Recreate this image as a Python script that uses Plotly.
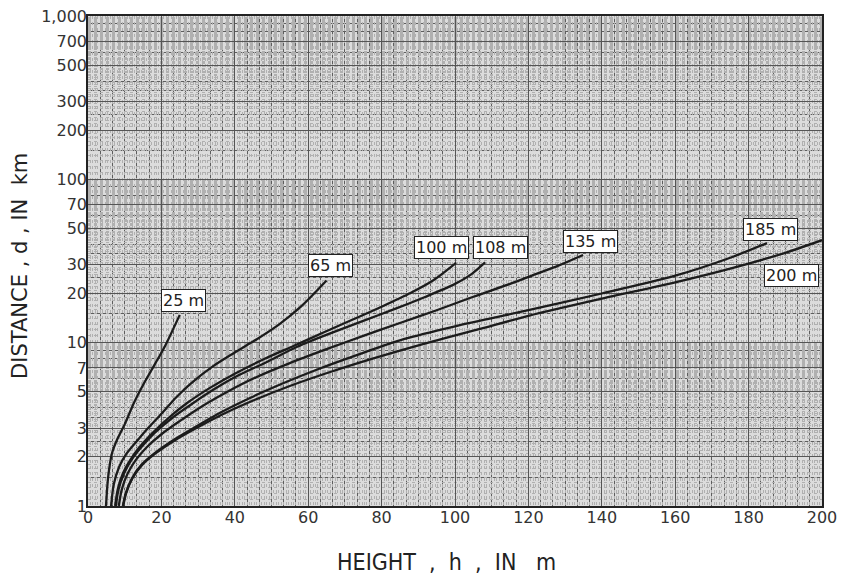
import numpy as np
import plotly.graph_objects as go

# height h (m) / distance d (km)
H_25 = [4.9, 5.5, 6.5, 8.0, 10.0, 12.5, 15.0, 18.0, 21.0, 25.0]
D_25 = [1.0, 1.51, 2.09, 2.57, 3.16, 4.27, 5.5, 7.24, 9.55, 14.8]

H_65 = [6.3, 7.0, 8.5, 10.5, 13.4, 16.5, 20.0, 24.0, 28.0, 34.0, 40.0, 46.0, 52.0, 58.0, 65.0]
D_65 = [1.0, 1.35, 1.74, 2.09, 2.51, 3.02, 3.67, 4.62, 5.62, 7.16, 8.71, 10.5, 12.9, 16.6, 24.0]

H_100 = [7.4, 8.1, 9.5, 11.5, 14.0, 17.7, 22.0, 27.0, 33.0, 40.0, 48.0, 56.0, 64.0, 72.0, 80.0, 88.0, 94.0, 100.3]
D_100 = [1.0, 1.26, 1.58, 1.91, 2.29, 2.82, 3.47, 4.27, 5.25, 6.46, 7.94, 9.55, 11.5, 13.8, 16.6, 20.2, 24.0, 30.8]

H_108 = [7.6, 8.3, 9.8, 11.8, 14.5, 18.3, 23.0, 28.0, 34.0, 41.0, 49.0, 57.0, 66.0, 75.0, 84.0, 92.0, 100.0, 104.5, 108.2]
D_108 = [1.0, 1.26, 1.58, 1.91, 2.29, 2.82, 3.47, 4.17, 5.13, 6.31, 7.67, 9.44, 11.4, 13.6, 16.2, 19.1, 22.9, 26.3, 31.0]

H_135 = [8.4, 9.2, 10.8, 13.0, 16.0, 20.0, 25.0, 31.0, 38.0, 46.0, 55.0, 65.0, 75.0, 85.0, 95.0, 105.0, 115.0, 122.0, 128.0, 134.9]
D_135 = [1.0, 1.26, 1.58, 1.91, 2.29, 2.75, 3.31, 4.07, 5.01, 6.17, 7.5, 9.12, 11.0, 13.2, 15.8, 19.1, 22.9, 26.3, 29.5, 34.4]

H_185 = [9.5, 10.3, 12.0, 14.5, 18.0, 23.0, 29.0, 36.0, 44.0, 53.0, 63.0, 74.0, 86.0, 100.0, 120.0, 140.0, 160.0, 175.0, 185.0]
D_185 = [1.0, 1.2, 1.48, 1.78, 2.09, 2.51, 3.02, 3.72, 4.57, 5.62, 6.92, 8.51, 10.5, 12.6, 15.8, 20.0, 25.7, 33.1, 40.7]

H_200 = [9.6, 10.4, 12.1, 14.7, 18.3, 23.5, 29.8, 37.0, 45.5, 55.0, 66.0, 78.0, 91.0, 106.0, 120.0, 140.0, 160.0, 176.0, 190.0, 200.0]
D_200 = [1.0, 1.2, 1.48, 1.78, 2.09, 2.51, 3.02, 3.67, 4.47, 5.43, 6.61, 8.04, 9.77, 12.0, 14.6, 18.6, 23.4, 28.8, 35.5, 42.4]

CURVES = [
    ("25 m", H_25, D_25),
    ("65 m", H_65, D_65),
    ("100 m", H_100, D_100),
    ("108 m", H_108, D_108),
    ("135 m", H_135, D_135),
    ("185 m", H_185, D_185),
    ("200 m", H_200, D_200),
]

# label box centres (h, d)
LABEL_POS = {
    "25 m": (25.9, 18.2),
    "65 m": (66.2, 29.7),
    "100 m": (96.2, 38.2),
    "108 m": (112.5, 38.2),
    "135 m": (136.8, 41.5),
    "185 m": (186.1, 49.1),
    "200 m": (191.6, 25.8),
}

X_TICKS = list(range(0, 201, 20))
Y_TICKS = [1, 2, 3, 5, 7, 10, 20, 30, 50, 70, 100, 200, 300, 500, 700, 1000]
Y_TICKTEXT = ["1", "2", "3", "5", "7", "10", "20", "30", "50", "70", "100",
              "200", "300", "500", "700", "1,000"]

# graph paper rulings
dark_mant = [1, 1.5, 2, 2.5, 3, 3.5, 4, 5, 6, 7, 8, 9]
dark_y = [m * 10 ** e for e in range(3) for m in dark_mant] + [1000]
fine_y = [round(m, 2) * 10 ** e for e in range(3) for m in np.arange(1, 10, 0.1)]

TICK_FONT = dict(family="DejaVu Sans", size=16, color="#333333")

fig = go.Figure()

for name, h, d in CURVES:
    fig.add_trace(
        go.Scatter(
            x=h, y=d, name=name, mode="lines",
            line=dict(color="#1c1c1c", width=2.3, shape="spline", smoothing=0.8),
            xaxis="x2", yaxis="y2", showlegend=False,
        )
    )

# empty trace so the base (fine-ruled) subplot gets drawn
fig.add_trace(go.Scatter(x=[X_TICKS[0], X_TICKS[-1]], y=[Y_TICKS[0], Y_TICKS[-1]],
                         mode="none", showlegend=False, hoverinfo="skip"))

for name, (lh, ld) in LABEL_POS.items():
    fig.add_annotation(
        x=lh, y=np.log10(ld), xref="x2", yref="y2", text=name, showarrow=False,
        font=dict(family="DejaVu Sans", size=16, color="#222222"),
        bgcolor="white", bordercolor="#222222", borderwidth=1, borderpad=1,
    )

fig.add_annotation(
    text="HEIGHT  ,  h  ,  IN   m", xref="paper", yref="paper", x=0.489, y=0,
    yanchor="middle", yshift=-56, showarrow=False,
    font=dict(family="DejaVu Sans Condensed, Liberation Sans, sans-serif", size=23,
              color="#222222"),
)
fig.add_annotation(
    text="DISTANCE , d , IN  km", xref="paper", yref="paper", x=0, y=0.49,
    xanchor="center", xshift=-68, textangle=-90, showarrow=False,
    font=dict(family="DejaVu Sans", size=21, color="#222222"),
)

# page body adds ~8px offset, so margins are trimmed on the left/top
fig.update_layout(
    width=853, height=584,
    margin=dict(l=80, r=39, t=8, b=86),
    plot_bgcolor="#dcdcdc",
    paper_bgcolor="white",
    showlegend=False,
    xaxis=dict(
        range=[0, 200], dtick=2 / 3, tick0=0, showticklabels=False, ticks="",
        showgrid=True, gridcolor="#b0b0b0", gridwidth=1, griddash="dot",
        zeroline=False, showline=True, mirror=True, linecolor="#222222", linewidth=2,
        automargin=False,
    ),
    yaxis=dict(
        type="log", range=[0, 3], tickvals=fine_y, showticklabels=False, ticks="",
        showgrid=True, gridcolor="#b0b0b0", gridwidth=1, griddash="dot",
        zeroline=False, showline=True, mirror=True, linecolor="#222222", linewidth=2,
        automargin=False,
    ),
    xaxis2=dict(
        overlaying="x", side="bottom", range=[0, 200], tickvals=X_TICKS,
        tickfont=TICK_FONT, ticks="", showgrid=True, gridcolor="#555555", gridwidth=1,
        minor=dict(dtick=10 / 3, tick0=0, showgrid=True, gridcolor="#5e5e5e", gridwidth=1),
        zeroline=False, automargin=False, ticklabeloverflow="allow",
    ),
    yaxis2=dict(
        overlaying="y", side="left", type="log", range=[0, 3], tickvals=Y_TICKS,
        ticktext=Y_TICKTEXT, tickfont=TICK_FONT, ticks="", showgrid=True,
        gridcolor="#555555", gridwidth=1,
        minor=dict(tickvals=dark_y, showgrid=True, gridcolor="#5e5e5e", gridwidth=1),
        zeroline=False, automargin=False, ticklabeloverflow="allow",
    ),
)

fig.write_html("out.html")
